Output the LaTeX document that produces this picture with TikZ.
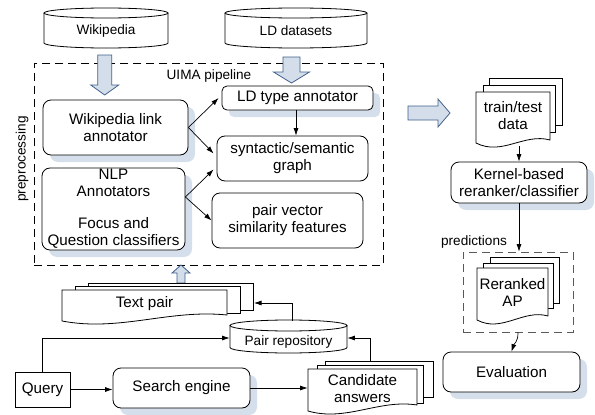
\documentclass[tikz,border=0pt]{standalone}
\usepackage{fontspec}
\setmainfont{Liberation Sans}
\usetikzlibrary{arrows.meta,shadows,calc}

\definecolor{shadowblue}{RGB}{213,223,235}
\definecolor{arrowfill}{RGB}{211,222,234}
\definecolor{arrowline}{RGB}{66,97,140}

\newcommand\boxfont{\fontsize{15.2}{17}\selectfont}
\newcommand\labelfont{\fontsize{13.6}{16}\selectfont}

% back sheet of a stacked document: x1,y1,x2,y2
\newcommand\sheet[4]{\draw[fill=white] (#1,#2) rectangle (#3,#4);}
% front sheet with a wavy lower edge: x1,y1,x2,y-left,y-right,amplitude
\newcommand\docsheet[6]{\draw[fill=white] (#1,#2) -- (#3,#2) -- (#3,#5)
  .. controls ({#1+0.65*(#3-#1)},{#5-1.2*#6}) and ({#1+0.35*(#3-#1)},{#4+2.2*#6}) .. (#1,#4) -- cycle;}
% database drum: x1,y1(top),x2,y2(bottom),vertical radius of the ends
\newcommand\drum[5]{%
  \draw[fill=white] (#1,{#2+#5}) -- (#1,{#4-#5})
    arc[start angle=180,end angle=0,x radius={(#3-#1)/2},y radius=#5] -- (#3,{#2+#5});
  \draw[fill=white] ({(#1+#3)/2},{#2+#5}) ellipse[x radius={(#3-#1)/2},y radius=#5];}
% vertical block arrow: centre x, tail y, head-base y, tip y, shaft half-width, head half-width
\newcommand\blockvert[6]{\draw[barrow] ({#1-#5},#2) -- ({#1+#5},#2) -- ({#1+#5},#3) -- ({#1+#6},#3)
  -- (#1,#4) -- ({#1-#6},#3) -- ({#1-#5},#3) -- cycle;}
% horizontal block arrow: centre y, tail x, head-base x, tip x, shaft half-width, head half-width
\newcommand\blockhoriz[6]{\draw[barrow] (#2,{#1-#5}) -- (#2,{#1+#5}) -- (#3,{#1+#5}) -- (#3,{#1+#6})
  -- (#4,#1) -- (#3,{#1-#6}) -- (#3,{#1-#5}) -- cycle;}

\begin{document}
\begin{tikzpicture}[x=1pt,y=-1pt,line width=0.8pt,
  box/.style={draw,fill=white,rounded corners=8pt,align=center,inner sep=0pt,font=\boxfont},
  plainbox/.style={draw,fill=white,align=center,inner sep=0pt,font=\boxfont},
  shadowed/.style={general shadow={shadow xshift=7pt,shadow yshift=-7pt,fill=shadowblue}},
  txt/.style={align=center,inner sep=0pt,font=\boxfont},
  lbl/.style={align=center,inner sep=0pt,font=\labelfont},
  conn/.style={-{Latex[length=7.5pt,width=5pt]},line width=0.7pt},
  dashbox/.style={draw,dash pattern=on 8pt off 5pt,line width=0.8pt,inner sep=0pt},
  barrow/.style={draw=arrowline,fill=arrowfill,line width=0.8pt,line join=miter}]
\useasboundingbox (0,0) rectangle (595,415);

% ---- sources ----
\drum{44}{8}{168}{48}{5}
\node[lbl] (wiki) at (106,31) {Wikipedia};
\drum{225}{8}{367}{48}{5}
\node[lbl] (ld) at (296,31) {LD datasets};

% ---- UIMA pipeline ----
\node[dashbox,minimum width=349pt,minimum height=202pt] (uima) at (208.5,164) {};
\node[lbl] (uimalabel) at (209,76) {UIMA pipeline};
\node[lbl,rotate=90] (prep) at (22,159) {preprocessing};

\blockvert{104.7}{55}{85}{95}{7}{14}
\blockvert{291.5}{57}{72}{83}{8.5}{18}

\node[box,shadowed,minimum width=145pt,minimum height=55pt] (wla) at (115.5,127.5) {Wikipedia link\\annotator};
\node[box,shadowed,minimum width=143pt,minimum height=82pt] (nlp) at (113.5,209) {NLP\\Annotators\\[15pt]Focus and\\Question classifiers};
\node[box,shadowed,rounded corners=5pt,minimum width=151pt,minimum height=24pt] (ldt) at (297.5,98) {LD type annotator};
\node[box,minimum width=151pt,minimum height=45pt] (syn) at (292.5,158.5) {syntactic/semantic\\graph};
\node[box,minimum width=151pt,minimum height=55pt] (pv) at (287.5,220.5) {pair vector\\similarity features};

\draw[conn] (wla.east) -- ([xshift=-3pt]ldt.west);
\draw[conn] (wla.east) -- ([xshift=-3pt,yshift=5pt]syn.west);
\draw[conn] ([yshift=12pt]nlp.east) -- ([xshift=-3pt,yshift=-11pt]syn.west);
\draw[conn] ([yshift=12pt]nlp.east) -- (pv.west);
\draw[conn] ([xshift=-1.5pt]ldt.south) -- ([xshift=-1.5pt]ldt.south |- syn.north);

% ---- text pairs and retrieval ----
\blockvert{181}{283}{273}{265}{4}{9}

\sheet{88}{283}{253}{310}
\sheet{75}{286}{240}{313}
\docsheet{62}{290}{227}{321}{315}{5}
\node[txt] (textpair) at (144.5,304) {Text pair};
\coordinate (tpedge) at (254,303);

\drum{230}{320}{347}{353}{5.5}
\node[lbl,minimum width=117pt,minimum height=33pt] (repo) at (288.5,338) {};
\node[lbl] (repotext) at (288.5,342) {Pair repository};
\coordinate (repotop) at (292,321);

\node[plainbox,minimum width=55pt,minimum height=35pt] (query) at (42.5,389.5) {Query};
\node[box,shadowed,minimum width=137pt,minimum height=40pt] (search) at (181.5,388) {Search engine};

\sheet{325}{361}{433}{397}
\sheet{317}{365}{423}{403}
\docsheet{308}{369}{417}{411}{405}{5}
\node[txt,minimum width=109pt,minimum height=36pt] (cand) at (362.5,389) {Candidate\\answers};
\coordinate (candtop) at (370,361);

\draw[conn] (query.north) |- (repo.west);
\draw[conn] (query.east) -- (query.east -| search.west);
\draw[conn] (search.east) -- (search.east -| cand.west);
\draw[conn] (candtop) |- (repo.east);
\draw[conn] (repotop) |- (tpedge);

% ---- learning and evaluation ----
\blockhoriz{113}{408}{438}{450}{7}{14}

\sheet{489}{78}{562}{125}
\sheet{483}{85}{555}{132}
\docsheet{476}{92}{550}{143}{140}{6}
\node[txt] (train) at (513,116) {train/test\\data};
\coordinate (trainbot) at (519,146);

\node[box,shadowed,minimum width=136pt,minimum height=41pt] (kernel) at (519,182.5) {Kernel-based\\reranker/classifier};
\draw[conn] (trainbot) -- (kernel.north);

\node[dashbox,draw=black!65,minimum width=110pt,minimum height=80pt] (rbox) at (518,292) {};
\sheet{490}{257}{559}{303}
\sheet{483}{263}{553}{308}
\docsheet{477}{268}{548}{320}{316}{6}
\node[txt] (reranked) at (512.5,292) {Reranked\\AP};

\draw[conn] (kernel.south) -- (kernel.south |- rbox.north);
\node[lbl] (pred) at (474,242) {predictions};

\node[box,shadowed,minimum width=137pt,minimum height=40pt] (eval) at (511.5,372) {Evaluation};
\draw[conn] (rbox.south) .. controls +(0,10) and +(3,-9) .. (eval.north);
\end{tikzpicture}
\end{document}
